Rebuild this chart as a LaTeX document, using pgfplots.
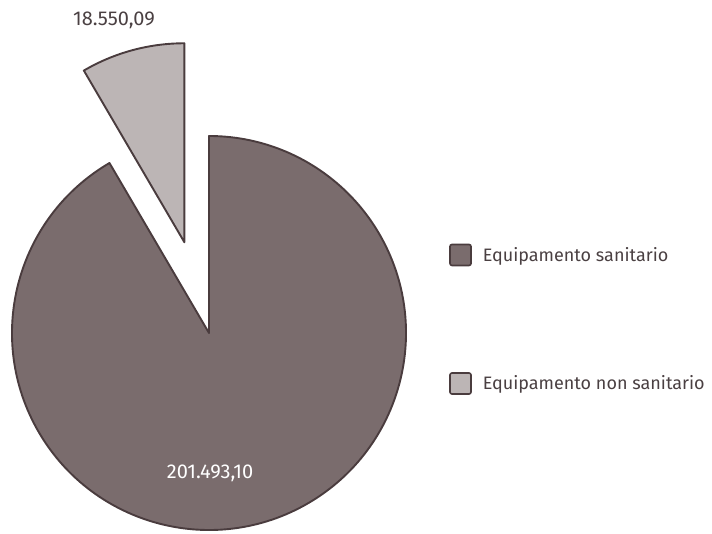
\documentclass[border=0pt]{standalone}
\usepackage{pgfplots}
\pgfplotsset{compat=1.18}
\usepackage{pgfplotstable}
\usepackage{fontspec}
\setmainfont{Fira Sans}
\definecolor{bigc}{HTML}{7A6C6D}
\definecolor{smallc}{HTML}{BCB5B5}
\definecolor{edge}{HTML}{4A3C3E}
\definecolor{txt}{HTML}{4A4042}
\pgfplotstableread[col sep=comma]{
label,value
Equipamento sanitario,201493.10
Equipamento non sanitario,18550.09
}\piedata
\pgfplotstablegetelem{0}{value}\of\piedata \let\vA\pgfplotsretval
\pgfplotstablegetelem{1}{value}\of\piedata \let\vB\pgfplotsretval
\edef\angB{\fpeval{360*\vB/(\vA+\vB)}}
\edef\startA{\fpeval{90+\angB}}
\edef\midB{\fpeval{90+\angB/2}}
\begin{document}
\begin{tikzpicture}
\begin{axis}[x=1pt,y=1pt,xmin=0,xmax=712,ymin=0,ymax=534,hide axis,clip=false,
  legend image code/.code={\draw[#1,line width=1.6pt,rounded corners=2pt] (0pt,-10.5pt) rectangle (21pt,10.5pt);},
  legend style={at={(axis cs:449,291)},anchor=north west,draw=none,fill=none,inner sep=0pt,
    row sep=105pt,font=\fontsize{18}{21}\selectfont,text=txt,
    nodes={inner sep=4pt},
    /tikz/every odd column/.append style={column sep=7pt}},
  legend cell align=left]
% big slice
\filldraw[fill=bigc,draw=edge,line width=1.9pt,line join=round]
  (axis cs:209,201) -- ++(\startA:197pt) arc[start angle=\startA,end angle=450,radius=197pt] -- cycle;
% small slice, exploded
\filldraw[fill=smallc,draw=edge,line width=1.9pt,line join=round]
  (axis cs:209,201) ++(\midB:94pt) -- ++(90:199pt) arc[start angle=90,end angle=\startA,radius=199pt] -- cycle;
\node[text=txt,font=\fontsize{20}{23}\selectfont] at (axis cs:114,514) {18.550,09};
\node[text=white,font=\fontsize{20}{23}\selectfont] at (axis cs:210,61) {201.493,10};
\addlegendimage{fill=bigc,draw=edge}
\addlegendentry{Equipamento sanitario}
\addlegendimage{fill=smallc,draw=edge}
\addlegendentry{Equipamento non sanitario}
\end{axis}
\pgfresetboundingbox
\path (0,0) rectangle (712pt,534pt);
\end{tikzpicture}
\end{document}
